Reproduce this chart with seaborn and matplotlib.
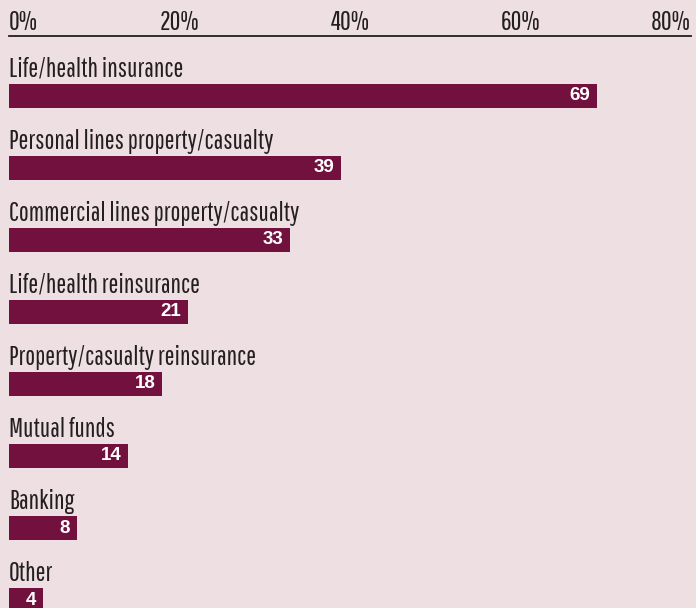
import os
import matplotlib
matplotlib.use("Agg")
import matplotlib.pyplot as plt
from matplotlib import font_manager as fm
import seaborn as sns
import pandas as pd

categories = [
    "Life/health insurance",
    "Personal lines property/casualty",
    "Commercial lines property/casualty",
    "Life/health reinsurance",
    "Property/casualty reinsurance",
    "Mutual funds",
    "Banking",
    "Other",
]
values = [69, 39, 33, 21, 18, 14, 8, 4]
tick_values = [0, 20, 40, 60, 80]
tick_labels = ["0%", "20%", "40%", "60%", "80%"]

BG = "#eedfe2"
BAR = "#73113e"
TEXT = "#231f20"


def condensed_family(preferred):
    """Register the first available condensed face and return its family name."""
    files = {os.path.basename(f): f for f in fm.findSystemFonts()}
    for fname in preferred:
        if fname in files:
            fm.fontManager.addfont(files[fname])
            return fm.FontProperties(fname=files[fname]).get_name()
    return "DejaVu Sans"


COND = condensed_family(["PathwayGothicOne-Regular.ttf", "RobotoCondensed-Regular.ttf"])
LABEL_FONT = [COND, "DejaVu Sans"]
VALUE_FONT = ["Liberation Sans", "DejaVu Sans"]

sns.set_theme(style="white")
plt.rcParams["font.family"] = LABEL_FONT

df = pd.DataFrame({"category": categories, "value": values})

W, H = 696, 608
fig = plt.figure(figsize=(W / 100, H / 100), dpi=100, facecolor=BG)
left_px, right_px, top_px = 9, 691, 36
ax = fig.add_axes([left_px / W, 0, (right_px - left_px) / W, (H - top_px) / H])
ax.set_facecolor(BG)

sns.barplot(data=df, x="value", y="category", orient="h", color=BAR,
            width=1 / 3, saturation=1, linewidth=0, ax=ax)

ax.set_xlim(0, 80)
ax.set_ylim(7.111, -0.833)

# category names sit above each bar, value inside the bar end
for i, (cat, val) in enumerate(zip(categories, values)):
    ax.text(0, i - 0.37, cat, ha="left", va="center", fontsize=19,
            color=TEXT, family=LABEL_FONT)
    ax.annotate(str(val), xy=(val, i), xytext=(-5, 0), textcoords="offset points",
                ha="right", va="center", fontsize=13.5, fontweight="bold",
                color="white", family=VALUE_FONT)

ax.set_xlabel("")
ax.set_ylabel("")
ax.set_yticks([])
ax.xaxis.tick_top()
ax.set_xticks(tick_values)
ax.set_xticklabels(tick_labels, fontsize=19, color=TEXT, family=LABEL_FONT)
ax.tick_params(axis="x", length=0, pad=0.5)
labels = ax.get_xticklabels()
labels[0].set_horizontalalignment("left")
labels[-1].set_horizontalalignment("right")

for side in ["left", "right", "bottom"]:
    ax.spines[side].set_visible(False)
ax.spines["top"].set_color(TEXT)
ax.spines["top"].set_linewidth(1.3)

fig.savefig("out.png", dpi=100, facecolor=BG)
